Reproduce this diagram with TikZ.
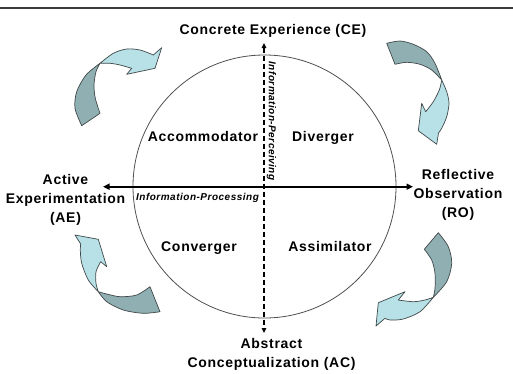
\documentclass[tikz,border=0pt]{standalone}
\usepackage{fontspec}
\setmainfont{Liberation Sans}
\newfontfamily\labfont[LetterSpace=5]{Liberation Sans}
\usetikzlibrary{arrows.meta}
\definecolor{darkteal}{RGB}{143,175,178}
\definecolor{lightteal}{RGB}{183,225,230}
\definecolor{edgegray}{RGB}{64,72,74}
\definecolor{rulegray}{RGB}{60,60,60}
\definecolor{circgray}{RGB}{80,80,80}
\begin{document}
\begin{tikzpicture}[x=1pt,y=-1pt,
  big/.style={font=\labfont\bfseries\fontsize{14}{19}\selectfont, inner sep=0pt, align=center},
  small/.style={font=\labfont\bfseries\itshape\fontsize{10}{12}\selectfont, inner sep=0pt},
  darkpart/.style={fill=darkteal, draw=edgegray, line width=0.7pt, line join=round},
  lightpart/.style={fill=lightteal, draw=edgegray, line width=0.7pt, line join=round},
  haxis/.style={line width=1.8pt, {Triangle[length=6.5pt,width=6pt]}-{Triangle[length=6.5pt,width=6pt]}},
  vaxis/.style={line width=1.5pt, dash pattern=on 5pt off 3pt, {Triangle[length=5pt,width=4.5pt]}-{Triangle[length=5pt,width=4.5pt]}},
]
\useasboundingbox (0,0) rectangle (513,373);
\fill[white] (0,0) rectangle (513,373);
\draw[rulegray, line width=1.1pt] (0,8) -- (513,8);

% circle
\node[draw=circgray, line width=0.8pt, circle, minimum size=263pt, inner sep=0pt] (wheel) at (264.5,186.5) {};

% curved arrows: top-left
\path[darkpart] plot[smooth] coordinates {(81.7,125.7) (75,108.3) (76.7,91.7) (86,75) (100,63.3)}
  -- plot[smooth] coordinates {(100,63.3) (96,71.7) (94,85) (95.3,98.3) (100,113.3)} -- cycle;
\path[lightpart] plot[smooth] coordinates {(100,63.3) (113.3,53.3) (126.7,49) (140,50) (151.7,54.3) (153.3,55)}
  -- (161.7,47.7) -- (155,68.3) -- (126.7,74.3) -- (131.7,68.3)
  -- plot[smooth] coordinates {(131.7,68.3) (120,65) (110,63.3) (100,63.3)} -- cycle;

% top-right
\path[darkpart] plot[smooth] coordinates {(386.7,43.3) (400,41) (413.3,44.3) (426.7,51.7) (435,63.3) (441.7,80)}
  -- plot[smooth] coordinates {(441.7,80) (431.7,70) (420,64.3) (406.7,62.3) (395,64.3)} -- cycle;
\path[lightpart] plot[smooth] coordinates {(441.7,80) (446.7,91.7) (449,103.3) (446.7,116.7) (441.7,128.3) (438.5,133)}
  -- (436.7,144.3) -- (418.3,130.7) -- (421.7,103.3) -- (425.7,111.7)
  -- plot[smooth] coordinates {(425.7,111.7) (433.3,101.7) (439.3,90) (441.7,80)} -- cycle;

% bottom-left
\path[darkpart] plot[smooth] coordinates {(160,311.7) (143.3,313.3) (123.3,310) (106.7,301.7) (98.3,291.7)}
  -- plot[smooth] coordinates {(98.3,291.7) (106.7,294) (120,296.7) (136.7,295) (150,286.7)} -- cycle;
\path[lightpart] plot[smooth] coordinates {(98.3,291.7) (88.3,280) (81.7,263.3) (80.3,250) (80.7,244)}
  -- (75,235) -- (98.3,239.3) -- (106.7,266.7) -- (100.7,261.7)
  -- plot[smooth] coordinates {(100.7,261.7) (96,271.7) (96,283.3) (98.3,291.7)} -- cycle;

% bottom-right
\path[darkpart] plot[smooth] coordinates {(438.3,232.7) (448.3,246.7) (451.7,263.3) (446.7,281.7) (433.3,297.3)}
  -- plot[smooth] coordinates {(433.3,297.3) (435,288.3) (435,273.3) (431.7,260) (424.3,249.3)} -- cycle;
\path[lightpart] plot[smooth] coordinates {(433.3,297.3) (420,311.7) (403.3,319) (390,320) (385,318.3)}
  -- (376,326) -- (378.3,302.7) -- (405,291.7) -- (398.3,300)
  -- plot[smooth] coordinates {(398.3,300) (413.3,301.7) (425,300) (433.3,297.3)} -- cycle;

% axes
\coordinate (hL) at (103,186.7);
\coordinate (hR) at (413,186.7);
\coordinate (vT) at (264,43);
\coordinate (vB) at (264,333);
\draw[haxis] (hL) -- (hR);
\draw[vaxis] (vT) -- (vB);

% labels
\node[big, anchor=base] (CE) at (273,34) {Concrete Experience (CE)};
\node[big, anchor=north] (AE) at (65.5,174) {Active\\Experimentation\\(AE)};
\node[big, anchor=north] (RO) at (458,169) {Reflective\\Observation\\(RO)};
\node[big, anchor=north] (AC) at (271.5,338) {Abstract\\Conceptualization (AC)};
\node[big, anchor=base] (acc) at (203,141) {Accommodator};
\node[big, anchor=base] (div) at (323,141) {Diverger};
\node[big, anchor=base] (conv) at (199,251) {Converger};
\node[big, anchor=base] (assim) at (330,251) {Assimilator};
\node[small, anchor=base] (proc) at (197.5,200.5) {Information-Processing};
\node[small, rotate=-90] (perc) at (271.5,121) {Information-Perceiving};
\end{tikzpicture}
\end{document}
